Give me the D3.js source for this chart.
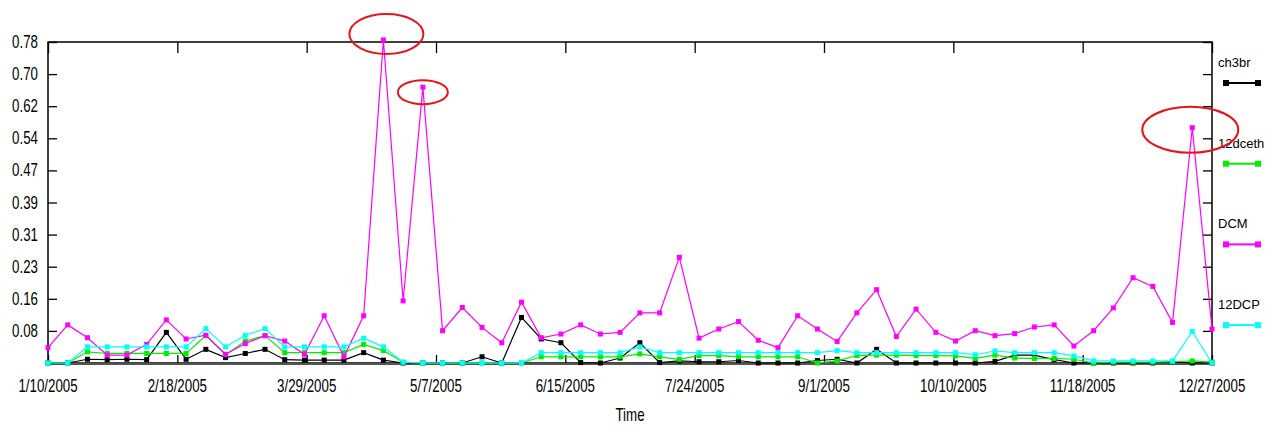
<!DOCTYPE html>
<html>
<head>
<meta charset="utf-8">
<script src="https://cdn.jsdelivr.net/npm/d3@7"></script>
<style>
  body { margin: 0; background: #fff; }
  svg { display: block; }
  .ax text { font-family: "Liberation Sans Narrow", "Arial Narrow", "Liberation Sans", Arial, sans-serif; font-size: 18px; fill: #000; }
  .leg text { font-family: "Liberation Sans", Arial, sans-serif; font-size: 13px; fill: #000; }
</style>
</head>
<body>
<svg id="chart" width="1265" height="425"></svg>
<script>
"use strict";
// one sample every ~6 days, 1/10/2005 .. 12/27/2005 (60 samples)
const xTickLabels = ["1/10/2005","2/18/2005","3/29/2005","5/7/2005","6/15/2005","7/24/2005","9/1/2005","10/10/2005","11/18/2005","12/27/2005"];
const yTickLabels = ["0.08","0.16","0.23","0.31","0.39","0.47","0.54","0.62","0.70","0.78"];
const seriesNames = ["ch3br","12dceth","DCM","12DCP"];
const seriesColors = ["#000000","#00ee00","#ff00ff","#00ffff"];

const ch3br = [0,0,0.009,0.008,0.009,0.008,0.074,0.009,0.033,0.013,0.023,0.033,0.008,0.007,0.007,0.007,
  0.025,0.007,0,0,0,0,0.015,0,0.11,0.058,0.049,0.001,0,0.012,0.049,
  0.001,0.005,0.003,0.003,0.006,0,0,0,0.006,0.009,0,0.033,0,0,0,0,
  0,0.004,0.019,0.019,0.008,0,0,0,0,0,0.003,0,0];
const dceth12 = [0,0,0.027,0.023,0.023,0.023,0.023,0.023,0.066,0.02,0.053,0.066,0.025,0.025,0.025,0.025,
  0.045,0.03,0.002,0,0,0,0,0,0,0.015,0.015,0.015,0.015,0.015,0.022,
  0.015,0.009,0.018,0.018,0.015,0.015,0.015,0.015,0,0.005,0.018,0.019,0.019,0.018,0.018,0.017,
  0.011,0.019,0.012,0.011,0.011,0.009,0,0.002,0.002,0.002,0.003,0.005,0.002];
const dcm = [0.037,0.092,0.061,0.019,0.019,0.045,0.104,0.058,0.067,0.021,0.047,0.066,0.053,0.021,0.114,0.015,
  0.114,0.78,0.15,0.666,0.078,0.134,0.086,0.049,0.147,0.061,0.07,0.092,0.07,0.074,0.121,
  0.121,0.255,0.06,0.082,0.1,0.055,0.037,0.114,0.082,0.052,0.121,0.177,0.064,0.13,0.074,0.053,
  0.078,0.066,0.071,0.087,0.092,0.041,0.078,0.133,0.206,0.185,0.098,0.568,0.082];
const dcp12 = [0,0,0.039,0.039,0.039,0.039,0.039,0.039,0.083,0.039,0.067,0.083,0.039,0.039,0.039,0.039,
  0.06,0.039,0.002,0,0,0,0,0,0,0.025,0.025,0.025,0.025,0.025,0.039,
  0.025,0.025,0.025,0.025,0.025,0.025,0.025,0.025,0.025,0.03,0.025,0.025,0.025,0.025,0.025,0.025,
  0.02,0.029,0.025,0.025,0.025,0.017,0.005,0.005,0.005,0.005,0.005,0.076,0];
const allSeries = [ch3br, dceth12, dcm, dcp12];

// red highlight circles: [sample index, value, dx, dy, rx, ry]
const highlights = [[17,0.78,3,-6,37,20],[19,0.666,0,5,25,12],[58,0.568,-2,2,48,23]];

const svg = d3.select("#chart");
const L = 48, R = 1212, T = 42, B = 363;
const narrow = 0.74;

const x = d3.scaleLinear().domain([0, dcm.length - 1]).range([L, R]);
const y = d3.scaleLinear().domain([0, 0.775]).range([B, T]);
const labelIdx = xTickLabels.map((d, i) => i * (dcm.length - 1) / (xTickLabels.length - 1));
const minorX = d3.range(0, 55).map(i => i * (dcm.length - 1) / 54);
const yMajor = yTickLabels.map((d, i) => (i + 1) * 0.0775);
const yMinor = d3.range(0, 51).map(i => i * 0.0155);

// frame
svg.append("rect").attr("x", L).attr("y", T).attr("width", R - L).attr("height", B - T)
  .attr("fill", "none").attr("stroke", "#000").attr("stroke-width", 1.5);

// left axis
const gl = svg.append("g").attr("class", "ax").attr("transform", `translate(${L},0)`);
gl.call(d3.axisRight(y).tickValues(yMinor).tickSize(4).tickFormat(""));
gl.call(d3.axisRight(y).tickValues(yMajor).tickSize(9).tickFormat(""));
gl.selectAll(".domain").remove();
gl.selectAll("line").attr("stroke", "#000").attr("stroke-width", 1.3);
svg.append("g").attr("class", "ax").selectAll("text").data(yTickLabels).join("text")
  .attr("transform", (d, i) => `translate(38,${y(yMajor[i]) + 6}) scale(${narrow},1)`)
  .attr("text-anchor", "end").text(d => d);

// right axis
const gr = svg.append("g").attr("class", "ax").attr("transform", `translate(${R},0)`);
gr.call(d3.axisLeft(y).tickValues(yMinor).tickSize(4).tickFormat(""));
gr.call(d3.axisLeft(y).tickValues(yMajor).tickSize(9).tickFormat(""));
gr.selectAll(".domain").remove();
gr.selectAll("line").attr("stroke", "#000").attr("stroke-width", 1.3);

// top axis
const gt = svg.append("g").attr("class", "ax").attr("transform", `translate(0,${T})`);
gt.call(d3.axisBottom(x).tickValues(minorX).tickSize(5).tickFormat(""));
gt.call(d3.axisBottom(x).tickValues(labelIdx).tickSize(11).tickFormat(""));
gt.selectAll(".domain").remove();
gt.selectAll("line").attr("stroke", "#000").attr("stroke-width", 1.3);

// bottom axis
const gb = svg.append("g").attr("class", "ax").attr("transform", `translate(0,${B})`);
gb.call(d3.axisTop(x).tickValues(minorX).tickSize(4).tickFormat(""));
gb.call(d3.axisTop(x).tickValues(labelIdx).tickSize(8).tickFormat(""));
gb.selectAll(".domain").remove();
gb.selectAll("line").attr("stroke", "#000").attr("stroke-width", 1.3);
svg.append("line").attr("x1", L).attr("x2", R).attr("y1", B + 1).attr("y2", B + 1)
  .attr("stroke", "#555").attr("stroke-width", 2);
svg.append("g").attr("class", "ax").selectAll("text").data(xTickLabels).join("text")
  .attr("transform", (d, i) => `translate(${x(labelIdx[i])},392) scale(${narrow},1)`)
  .attr("text-anchor", "middle").text(d => d);
svg.append("g").attr("class", "ax").append("text")
  .attr("transform", `translate(630,421) scale(${narrow},1)`)
  .attr("text-anchor", "middle").text("Time");

// series
const line = d3.line().x((d, i) => x(i)).y(d => y(d));
allSeries.forEach((s, k) => {
  const g = svg.append("g");
  g.append("path").attr("d", line(s)).attr("fill", "none")
    .attr("stroke", seriesColors[k]).attr("stroke-width", 1.2);
  g.selectAll("rect").data(s).join("rect")
    .attr("x", (d, i) => x(i) - 2.5).attr("y", d => y(d) - 2.5)
    .attr("width", 5).attr("height", 5).attr("fill", seriesColors[k]);
});

// legend
const lg = svg.append("g").attr("class", "leg");
seriesNames.forEach((n, k) => {
  const ty = 67 + k * 80.7;
  lg.append("text").attr("x", 1218).attr("y", ty).text(n);
  lg.append("line").attr("x1", 1226).attr("x2", 1258).attr("y1", ty + 16).attr("y2", ty + 16)
    .attr("stroke", seriesColors[k]).attr("stroke-width", 2);
  [1226, 1258].forEach(px => lg.append("rect").attr("x", px - 3).attr("y", ty + 13)
    .attr("width", 6).attr("height", 6).attr("fill", seriesColors[k]));
});

// red highlight ellipses
svg.append("g").selectAll("ellipse").data(highlights).join("ellipse")
  .attr("cx", d => x(d[0]) + d[2]).attr("cy", d => y(d[1]) + d[3])
  .attr("rx", d => d[4]).attr("ry", d => d[5])
  .attr("fill", "none").attr("stroke", "#e8141b").attr("stroke-width", 2);
</script>
</body>
</html>
